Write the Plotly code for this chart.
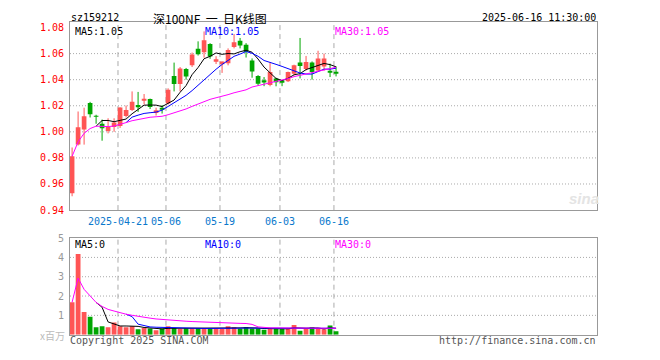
import plotly.graph_objects as go
import pandas as pd
import numpy as np

# ---------------- data ----------------
dates = ["2025-04-09", "2025-04-10", "2025-04-11", "2025-04-14", "2025-04-15", "2025-04-16",
         "2025-04-17", "2025-04-18", "2025-04-21", "2025-04-22", "2025-04-23", "2025-04-24",
         "2025-04-25", "2025-04-28", "2025-04-29", "2025-04-30", "2025-05-06", "2025-05-07",
         "2025-05-08", "2025-05-09", "2025-05-12", "2025-05-13", "2025-05-14", "2025-05-15",
         "2025-05-16", "2025-05-19", "2025-05-20", "2025-05-21", "2025-05-22", "2025-05-23",
         "2025-05-26", "2025-05-27", "2025-05-28", "2025-05-29", "2025-05-30", "2025-06-03",
         "2025-06-04", "2025-06-05", "2025-06-06", "2025-06-09", "2025-06-10", "2025-06-11",
         "2025-06-12", "2025-06-13", "2025-06-16"]
open_ = [0.9530, 0.9902, 1.0018, 1.0222, 1.0122, 1.0062, 1.0006, 1.0037, 1.0045, 1.0122,
         1.0168, 1.0206, 1.0241, 1.0251, 1.0145, 1.0180, 1.0218, 1.0428, 1.0366, 1.0482,
         1.0510, 1.0637, 1.0611, 1.0674, 1.0543, 1.0519, 1.0526, 1.0650, 1.0699, 1.0667,
         1.0547, 1.0428, 1.0395, 1.0360, 1.0410, 1.0385, 1.0388, 1.0446, 1.0532, 1.0481,
         1.0532, 1.0470, 1.0502, 1.0465, 1.0455]
high = [0.9880, 1.0156, 1.0185, 1.0230, 1.0131, 1.0094, 1.0104, 1.0104, 1.0188, 1.0202,
        1.0310, 1.0306, 1.0290, 1.0255, 1.0185, 1.0205, 1.0334, 1.0531, 1.0497, 1.0490,
        1.0608, 1.0694, 1.0770, 1.0680, 1.0580, 1.0539, 1.0640, 1.0750, 1.0720, 1.0680,
        1.0563, 1.0435, 1.0420, 1.0534, 1.0415, 1.0392, 1.0462, 1.0515, 1.0720, 1.0582,
        1.0540, 1.0622, 1.0600, 1.0523, 1.0502]
low = [0.9506, 0.9895, 0.9902, 1.0110, 1.0062, 0.9932, 0.9988, 1.0000, 1.0030, 1.0110,
       1.0160, 1.0153, 1.0210, 1.0175, 1.0125, 1.0140, 1.0210, 1.0310, 1.0310, 1.0400,
       1.0497, 1.0585, 1.0569, 1.0560, 1.0520, 1.0452, 1.0510, 1.0640, 1.0640, 1.0570,
       1.0415, 1.0356, 1.0350, 1.0349, 1.0349, 1.0350, 1.0382, 1.0435, 1.0410, 1.0470,
       1.0400, 1.0460, 1.0469, 1.0420, 1.0425]
close = [0.9812, 1.0035, 1.0119, 1.0135, 1.0117, 1.0028, 1.0037, 1.0072, 1.0186, 1.0168,
         1.0230, 1.0188, 1.0251, 1.0190, 1.0165, 1.0175, 1.0323, 1.0366, 1.0486, 1.0425,
         1.0593, 1.0596, 1.0703, 1.0578, 1.0556, 1.0539, 1.0628, 1.0687, 1.0662, 1.0613,
         1.0462, 1.0368, 1.0378, 1.0458, 1.0380, 1.0380, 1.0458, 1.0510, 1.0504, 1.0535,
         1.0458, 1.0563, 1.0563, 1.0458, 1.0450]
# volume, unit: million shares
volume = [1.68, 4.18, 1.18, 0.93, 0.38, 0.43, 0.38, 0.63, 0.43, 0.38,
          0.43, 0.28, 0.35, 0.32, 0.23, 0.32, 0.43, 0.35, 0.30, 0.33,
          0.32, 0.33, 0.32, 0.32, 0.32, 0.30, 0.43, 0.38, 0.32, 0.38,
          0.32, 0.32, 0.25, 0.32, 0.32, 0.32, 0.32, 0.50, 0.20, 0.32,
          0.38, 0.32, 0.28, 0.48, 0.18]

tick_dates = ["2025-04-21", "2025-05-06", "2025-05-19", "2025-06-03", "2025-06-16"]
tick_text = ["2025-04-21", "05-06", "05-19", "06-03", "06-16"]
price_ticks = [0.94, 0.96, 0.98, 1.00, 1.02, 1.04, 1.06, 1.08]
price_grid = [0.96, 0.98, 1.00, 1.02, 1.04, 1.06]
vol_ticks = [1, 2, 3, 4, 5]
vol_grid = [1, 2, 3, 4]

# ---------------- styling ----------------
OFF = 8                      # page body margin
W, H = 660 - OFF, 360 - OFF  # figure size so that the page is 660x360
RED = "#ff5555"
GREEN = "#00a600"
MONO = "DejaVu Sans Mono"
CJK = "Noto Sans CJK SC"
FRAME = "#999999"
GRID = "#aaaaaa"


def px(x):
    return (x - OFF) / W


def py(y):
    return 1 - (y - OFF) / H


n = len(dates)
xi = np.arange(n)
o = np.array(open_)
c = np.array(close)
hgh = np.array(high)
lw = np.array(low)
vol = np.array(volume)
up = c >= o
colors = [RED if u else GREEN for u in up]

cs = pd.Series(c)
vs = pd.Series(vol)
ma5 = cs.rolling(5).mean()
ma10 = cs.rolling(10).mean()
ma30 = cs.rolling(30, min_periods=1).mean()
vma5 = vs.rolling(5).mean()
vma10 = vs.rolling(10).mean()
vma30 = vs.rolling(30, min_periods=1).mean()

fig = go.Figure()

# wicks
for flag, col in ((True, RED), (False, GREEN)):
    wx, wy = [], []
    for i in range(n):
        if up[i] == flag:
            wx += [i, i, None]
            wy += [lw[i], hgh[i], None]
    fig.add_trace(go.Scatter(x=wx, y=wy, mode="lines", line=dict(color=col, width=1),
                             hoverinfo="skip", xaxis="x", yaxis="y"))

# bodies
body_base = np.minimum(o, c)
body_h = np.maximum(np.abs(c - o), 0.0005)
fig.add_trace(go.Bar(x=xi, y=body_h, base=body_base, width=0.78,
                     marker=dict(color=colors, line=dict(width=0)),
                     xaxis="x", yaxis="y"))

# price MAs
for s, col in ((ma5, "#000000"), (ma10, "#0000ff"), (ma30, "#ff00ff")):
    fig.add_trace(go.Scatter(x=xi, y=s, mode="lines", line=dict(color=col, width=1),
                             xaxis="x", yaxis="y"))

# volume bars
fig.add_trace(go.Bar(x=xi, y=vol, width=0.8, marker=dict(color=colors, line=dict(width=0)),
                     xaxis="x2", yaxis="y2"))
for s, col in ((vma5, "#000000"), (vma10, "#0000ff"), (vma30, "#ff00ff")):
    fig.add_trace(go.Scatter(x=xi, y=s, mode="lines", line=dict(color=col, width=1),
                             xaxis="x2", yaxis="y2"))

# positions of date ticks (slot left edge)
pos = {d: i for i, d in enumerate(dates)}
tick_x = [pos[d] - 0.35 for d in tick_dates]

x_dom = [px(70), px(597)]
x_rng = [-0.35, (597 - 72) / 6]

shapes = []
for g in price_grid:
    shapes.append(dict(type="line", xref="x domain", yref="y", x0=0, x1=1, y0=g, y1=g,
                       line=dict(color=GRID, width=1, dash="1px,2px"), layer="below"))
for g in vol_grid:
    shapes.append(dict(type="line", xref="x2 domain", yref="y2", x0=0, x1=1, y0=g, y1=g,
                       line=dict(color=GRID, width=1, dash="1px,2px"), layer="below"))
for tx in tick_x:
    shapes.append(dict(type="line", xref="x", yref="y domain", x0=tx, x1=tx, y0=0, y1=1,
                       line=dict(color=GRID, width=1, dash="5px,4px"), layer="below"))
    shapes.append(dict(type="line", xref="x2", yref="y2 domain", x0=tx, x1=tx, y0=0, y1=1,
                       line=dict(color=GRID, width=1, dash="5px,4px"), layer="below"))

ann = []


def text(x, y, s, color="#000000", size=10, family=MONO, xanchor="left", yanchor="middle",
         height=None):
    a = dict(x=px(x), y=py(y), xref="paper", yref="paper", text=s, showarrow=False,
             xanchor=xanchor, yanchor=yanchor, borderpad=0,
             font=dict(color=color, size=size, family=family))
    if height is not None:
        a["height"] = height
    ann.append(a)


NB = "\u00a0"
text(70, 12, "sz159212", height=11)
text(210, 12, "深100NF" + NB * 2 + "一" + NB * 2 + "日K线图", size=12, family=CJK,
     xanchor="center", height=12)
text(597, 12, "2025-06-16 11:30:00", xanchor="right", height=11)
text(74, 26, "MA5:%.2f" % ma5.iloc[-1], height=11)
text(204, 26, "MA10:%.2f" % ma10.iloc[-1], color="#0000ff", height=11)
text(334, 26, "MA30:%.2f" % ma30.iloc[-1], color="#ff00ff", height=11)
text(74, 247, "MA5:0", height=11)
text(204, 247, "MA10:0", color="#0000ff", height=11)
text(334, 247, "MA30:0", color="#ff00ff", height=11)
text(66, 341, "x百万", color="#bbbbbb", size=10, family=CJK, xanchor="right", height=11)
text(69, 346, "Copyright 2025 SINA.COM", color="#555555", height=11)
text(597, 346, "http://finance.sina.com.cn", color="#555555", xanchor="right", height=11)
text(584, 199, "<b><i>sina</i></b>", color="#e4e4e4", size=15, family="Liberation Sans",
     xanchor="center")

axis_common = dict(showline=True, mirror=True, linecolor=FRAME, linewidth=1,
                   showgrid=False, zeroline=False, ticks="", fixedrange=True)

fig.update_layout(
    width=W, height=H, margin=dict(l=0, r=0, t=0, b=0),
    paper_bgcolor="white", plot_bgcolor="white", showlegend=False,
    barmode="overlay",
    xaxis=dict(domain=x_dom, range=x_rng, anchor="y", tickvals=tick_x, ticktext=tick_text,
               tickfont=dict(color="#0a78cc", size=10, family=MONO), ticklabelstandoff=2,
               **axis_common),
    xaxis2=dict(domain=x_dom, range=x_rng, anchor="y2", showticklabels=False, matches="x",
                **axis_common),
    yaxis=dict(domain=[py(211), py(16)], range=[0.94, 0.94 + 195 * 0.02 / 27], anchor="x",
               tickvals=price_ticks, tickformat=".2f",
               tickfont=dict(color="#ff0000", size=10, family=MONO), ticklabelstandoff=3,
               **axis_common),
    yaxis2=dict(domain=[py(340), py(240)], range=[0, 5], anchor="x2", tickvals=vol_ticks,
                tickfont=dict(color="#999999", size=10, family=MONO), ticklabelstandoff=3,
                **axis_common),
    shapes=shapes, annotations=ann,
)

fig.write_html("out.html")
